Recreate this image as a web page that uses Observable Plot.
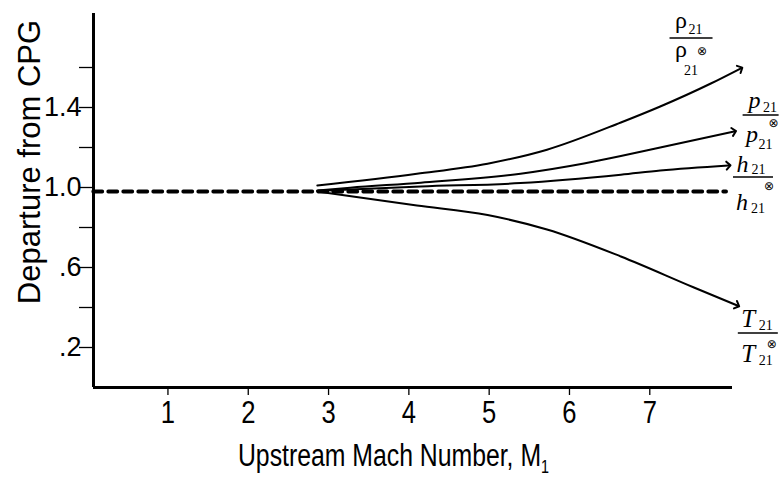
<!DOCTYPE html>
<html><head><meta charset="utf-8">
<script src="https://cdn.jsdelivr.net/npm/d3@7"></script>
<script src="https://cdn.jsdelivr.net/npm/@observablehq/plot@0.6"></script>
<style>body{margin:0;background:#fff} svg{display:block}</style>
</head><body><div id="chart"></div>
<script>
// ---- data ----
const machRho = [2.86, 4.10, 4.98, 5.72, 6.64, 7.13, 7.76, 8.13];
const densityRatio = [1.01, 1.069, 1.119, 1.189, 1.325, 1.405, 1.52, 1.595];
const machP = [2.86, 3.27, 4.15, 5.39, 6.18, 6.64, 7.13, 8.05];
const pressureRatio = [0.985, 0.999, 1.024, 1.069, 1.12, 1.157, 1.20, 1.28];
const machH = [2.86, 4.15, 5.39, 6.64, 7.13, 7.98];
const enthalpyRatio = [0.983, 1.005, 1.022, 1.064, 1.085, 1.11];
const machT = [2.86, 4.10, 4.98, 5.72, 6.64, 7.55, 8.09];
const temperatureRatio = [0.98, 0.91, 0.862, 0.79, 0.655, 0.50, 0.41];
const machCPG = [0.07, 7.95];
const cpgRatio = [0.98, 0.98];

const xTicks = [1, 2, 3, 4, 5, 6, 7];
const yMajorTicks = [0.2, 0.6, 1.0, 1.4];
const yMinorTicks = [0.4, 0.8, 1.2, 1.6];
const xDomain = [0.073, 8.03];
const yDomain = [0, 1.87];
const xTitle = "Upstream Mach Number, M";
const xTitleSub = "1";
const yTitle = "Departure from CPG";
const seriesKeys = ["rho", "p", "h", "T"];
const seriesSymbols = ["ρ", "p", "h", "T"];
const seriesSub = "21";

// ---- tables built from the arrays ----
const seriesData = {
  rho: machRho.map((m, i) => ({mach: m, value: densityRatio[i]})),
  p: machP.map((m, i) => ({mach: m, value: pressureRatio[i]})),
  h: machH.map((m, i) => ({mach: m, value: enthalpyRatio[i]})),
  T: machT.map((m, i) => ({mach: m, value: temperatureRatio[i]}))
};
const cpgData = machCPG.map((m, i) => ({mach: m, value: cpgRatio[i]}));

const sans = "'Liberation Sans', Arial, sans-serif";
const fmtY = d => { const s = d.toFixed(1); return d < 1 ? s.replace(/^0/, "") : s; };

const curveMarks = seriesKeys.map(k => Plot.line(seriesData[k], {
  x: "mach", y: "value", stroke: "black", strokeWidth: 2, curve: "monotone-x", markerEnd: "arrow"
}));

const chart = Plot.plot({
  width: 779, height: 479,
  marginLeft: 93, marginRight: 47, marginTop: 13, marginBottom: 92,
  style: {background: "white", color: "black", fontFamily: sans},
  x: {domain: xDomain},
  y: {domain: yDomain},
  marks: [
    Plot.axisY({ticks: yMajorTicks, tickSize: 14, tickPadding: -2, tickFormat: fmtY, fontSize: 27, fontFamily: sans, strokeWidth: 1.3, label: null}),
    Plot.axisY({ticks: yMinorTicks, tickSize: 14, tickFormat: () => "", strokeWidth: 1.3, label: null}),
    Plot.axisX({ticks: xTicks, tickSize: 8, tickPadding: 5, fontSize: 32, fontFamily: sans, strokeWidth: 1.3, label: null}),
    Plot.ruleY([yDomain[0]], {stroke: "black", strokeWidth: 3}),
    Plot.ruleX([xDomain[0]], {stroke: "black", strokeWidth: 3}),
    Plot.line(cpgData, {x: "mach", y: "value", stroke: "black", strokeWidth: 3.8, strokeDasharray: "9,6"}),
    ...curveMarks
  ]
});
document.getElementById("chart").appendChild(chart);

const svg = d3.select(chart);
const narrowScale = 0.8;
// condense the x tick labels (reference uses a narrow face)
svg.selectAll('g[aria-label="x-axis tick label"] text').each(function () {
  const t = d3.select(this);
  t.attr("transform", (t.attr("transform") || "") + ` scale(${narrowScale},1)`);
});

// ---- axis titles ----
const xs = chart.scale("x"), ys = chart.scale("y");
const fx = xs.apply ? v => xs.apply(v) : d3.scaleLinear(xs.domain, xs.range);
const fy = ys.apply ? v => ys.apply(v) : d3.scaleLinear(ys.domain, ys.range);
const frameLeft = 93, frameRight = 779 - 47, frameTop = 13, frameBottom = 479 - 92;

const xt = svg.append("text").attr("fill", "black").attr("font-family", sans).attr("font-size", 31)
  .attr("text-anchor", "middle")
  .attr("transform", `translate(${(frameLeft + frameRight) / 2 - 19},${frameBottom + 79}) scale(${narrowScale},1)`);
xt.append("tspan").text(xTitle);
xt.append("tspan").attr("font-size", 18).attr("dy", 7).text(xTitleSub);

svg.append("text").attr("fill", "black").attr("font-family", sans).attr("font-size", 31)
  .attr("text-anchor", "middle").attr("dominant-baseline", "central")
  .attr("transform", `translate(${frameLeft - 64},${(frameTop + frameBottom) / 2 - 38}) rotate(-90)`)
  .text(yTitle);

// ---- fraction labels at the end of each curve ----
const layout = {
  rho: {dx: -49, dy: -30, w: 43, size: 24, italic: false,
        num: [-10, -10], numSub: [4.5, -4], den: [-10, 19], denSub: [0, 37], ot: [11, 13]},
  p:   {dx: 27, dy: -16, w: 36, size: 24, italic: true,
        num: [-6, -7], numSub: [9.5, -3], den: [-8.5, 27], denSub: [5, 34], ot: [13, 8]},
  h:   {dx: 25, dy: 12, w: 40, size: 24, italic: true,
        num: [-10.5, -5], numSub: [5.5, -3], den: [-11, 33], denSub: [5, 36], ot: [16, 9]},
  T:   {dx: 21, dy: 28, w: 40, size: 25, italic: true,
        num: [-9.5, -6], numSub: [8, -3], den: [-9.5, 29], denSub: [8, 32], ot: [14, 11]}
};
const lg = svg.append("g").attr("fill", "black").attr("font-family", "'Liberation Serif', 'Times New Roman', serif").attr("text-anchor", "middle");
seriesKeys.forEach((k, i) => {
  const L = layout[k];
  const pts = seriesData[k];
  const end = pts[pts.length - 1];
  const cx = fx(end.mach) + L.dx, by = fy(end.value) + L.dy;
  lg.append("line").attr("x1", cx - L.w / 2).attr("x2", cx + L.w / 2).attr("y1", by).attr("y2", by)
    .attr("stroke", "black").attr("stroke-width", 1.4);
  const put = (pos, txt, size, italic) => lg.append("text").attr("x", cx + pos[0]).attr("y", by + pos[1])
    .attr("font-size", size).attr("font-style", italic ? "italic" : "normal").text(txt);
  put(L.num, seriesSymbols[i], L.size, L.italic);
  put(L.numSub, seriesSub, 14, false);
  put(L.den, seriesSymbols[i], L.size, L.italic);
  put(L.denSub, seriesSub, 14, false);
  put(L.ot, "⊗", 12, false).attr("dominant-baseline", "central").attr("font-family", "'DejaVu Sans', sans-serif");
});
</script></body></html>
